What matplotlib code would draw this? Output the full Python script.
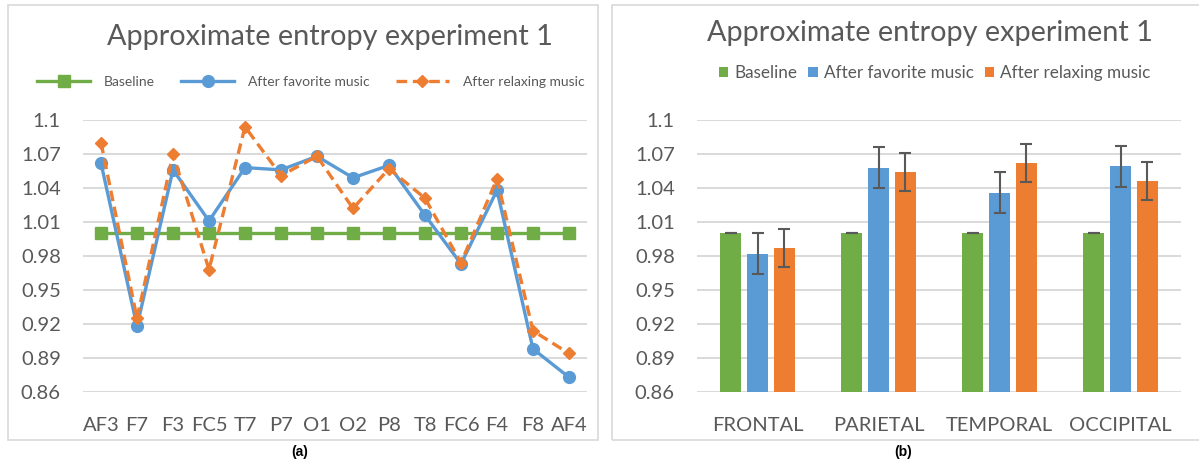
import matplotlib
matplotlib.use("Agg")
import matplotlib.pyplot as plt
import numpy as np
from matplotlib.patches import Rectangle

plt.rcParams["font.family"] = ["Lato", "DejaVu Sans"]

# ---- data ----
channels = ["AF3", "F7", "F3", "FC5", "T7", "P7", "O1", "O2", "P8", "T8", "FC6", "F4", "F8", "AF4"]
baseline_ch = [1.0] * 14
favorite_ch = [1.062, 0.918, 1.056, 1.011, 1.058, 1.056, 1.068, 1.049, 1.060, 1.016, 0.973, 1.038, 0.898, 0.873]
relaxing_ch = [1.080, 0.925, 1.070, 0.968, 1.094, 1.051, 1.068, 1.022, 1.057, 1.031, 0.974, 1.048, 0.914, 0.894]

regions = ["FRONTAL", "PARIETAL", "TEMPORAL", "OCCIPITAL"]
baseline_rg = [1.0, 1.0, 1.0, 1.0]
favorite_rg = [0.982, 1.058, 1.036, 1.059]
relaxing_rg = [0.987, 1.054, 1.062, 1.046]
baseline_err = [0.0, 0.0, 0.0, 0.0]
favorite_err = [0.018, 0.018, 0.018, 0.018]
relaxing_err = [0.017, 0.017, 0.017, 0.017]

yticks = [0.86, 0.89, 0.92, 0.95, 0.98, 1.01, 1.04, 1.07, 1.10]
ytick_labels = ["0.86", "0.89", "0.92", "0.95", "0.98", "1.01", "1.04", "1.07", "1.1"]
title = "Approximate entropy experiment 1"
series_names = ["Baseline", "After favorite music", "After relaxing music"]

GREEN, BLUE, ORANGE = "#70AD47", "#5B9BD5", "#ED7D31"
TXT, GRID = "#595959", "#D9D9D9"
W, H = 1199, 467


def px_axes(fig, x0, x1, y0, y1):
    # pixel box (top-left origin) -> figure fraction
    return fig.add_axes([x0 / W, 1 - y1 / H, (x1 - x0) / W, (y1 - y0) / H])


def style_axes(ax, n):
    ax.set_ylim(0.86, 1.10)
    ax.set_xlim(-0.5, n - 0.5)
    ax.set_yticks(yticks)
    ax.set_yticklabels(ytick_labels)
    ax.yaxis.grid(True, color=GRID, linewidth=1.4, zorder=0)
    ax.set_axisbelow(True)
    for s in ax.spines.values():
        s.set_visible(False)
    ax.tick_params(axis="both", length=0, colors=TXT, labelsize=14.5)
    ax.tick_params(axis="y", pad=16)
    ax.tick_params(axis="x", pad=18)


fig = plt.figure(figsize=(W / 100, H / 100), dpi=100)

# panel frames
for x0, x1 in [(8, 598), (612, 1210)]:
    fig.patches.append(Rectangle((x0 / W, 1 - 440 / H), (x1 - x0) / W, 435 / H,
                                 transform=fig.transFigure, fill=False,
                                 edgecolor=GRID, linewidth=1.2))

# ---- (a) line chart ----
ax1 = px_axes(fig, 83, 587, 120, 392)
style_axes(ax1, len(channels))
xs = np.arange(len(channels))
ax1.plot(xs, baseline_ch, color=GREEN, lw=2.4, marker="s", ms=8.5, label=series_names[0], zorder=3)
ax1.plot(xs, favorite_ch, color=BLUE, lw=2.4, marker="o", ms=8.5, label=series_names[1], zorder=4)
ax1.plot(xs, relaxing_ch, color=ORANGE, lw=2.4, ls=(0, (3.2, 1.7)), marker="D", ms=6,
         label=series_names[2], zorder=5)
ax1.set_xticks(xs)
ax1.set_xticklabels(channels)
fig.text(330 / W, 1 - 37 / H, title, ha="center", va="center", fontsize=20.8, color=TXT)
ax1.legend(loc="center", bbox_to_anchor=(0.452, 1 + 38 / 272), ncol=3, frameon=False,
           fontsize=10, labelcolor=TXT, handlelength=3.8, columnspacing=1.9,
           handletextpad=1.0)

# ---- (b) bar chart ----
ax2 = px_axes(fig, 697, 1181, 120, 392)
style_axes(ax2, len(regions))
xr = np.arange(len(regions))
bw, step = 0.173, 0.22
err_kw = dict(ecolor="#595959", elinewidth=1.5, capsize=4, capthick=1.5)
ax2.bar(xr - step, np.array(baseline_rg) - 0.86, bw, bottom=0.86, color=GREEN,
        yerr=baseline_err, error_kw=err_kw, label=series_names[0], zorder=2)
ax2.bar(xr, np.array(favorite_rg) - 0.86, bw, bottom=0.86, color=BLUE,
        yerr=favorite_err, error_kw=err_kw, label=series_names[1], zorder=2)
ax2.bar(xr + step, np.array(relaxing_rg) - 0.86, bw, bottom=0.86, color=ORANGE,
        yerr=relaxing_err, error_kw=err_kw, label=series_names[2], zorder=2)
ax2.set_xticks(xr)
ax2.set_xticklabels(regions)
fig.text(930 / W, 1 - 33 / H, title, ha="center", va="center", fontsize=20.8, color=TXT)
ax2.legend(loc="center", bbox_to_anchor=(0.491, 1 + 47 / 272), ncol=3, frameon=False,
           fontsize=12.3, labelcolor=TXT, handlelength=0.55, handleheight=0.55,
           columnspacing=0.64, handletextpad=0.35)

fig.text(300 / W, 1 - 452 / H, "(a)", ha="center", va="center", fontsize=10,
         fontweight="bold", family="Liberation Sans")
fig.text(903 / W, 1 - 452 / H, "(b)", ha="center", va="center", fontsize=10,
         fontweight="bold", family="Liberation Sans")

fig.savefig("out.png", dpi=100)
